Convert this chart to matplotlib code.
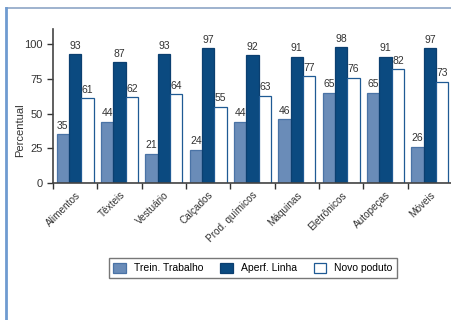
import matplotlib
matplotlib.use("Agg")
import matplotlib.pyplot as plt
from matplotlib.lines import Line2D
from matplotlib import font_manager
import numpy as np

names = {f.name for f in font_manager.fontManager.ttflist}
family = "Liberation Sans Narrow" if "Liberation Sans Narrow" in names else "Liberation Sans"
plt.rcParams["font.family"] = [family, "DejaVu Sans"]

categories = ["Alimentos", "Têxteis", "Vestuário", "Calçados", "Prod. químicos",
              "Máquinas", "Eletrônicos", "Autopeças", "Móveis"]
trein_trabalho = [35, 44, 21, 24, 44, 46, 65, 65, 26]
aperf_linha = [93, 87, 93, 97, 92, 91, 98, 91, 97]
novo_produto = [61, 62, 64, 55, 63, 77, 76, 82, 73]
series_names = ["Trein. Trabalho", "Aperf. Linha", "Novo poduto"]
yticks = [0, 25, 50, 75, 100]

fig = plt.figure(figsize=(4.52, 3.2), dpi=100)
ax = fig.add_axes([53 / 452, 137 / 320, 1 - 53 / 452, (183 - 29) / 320])

face = ["#6a8cb8", "#0b4a80", "#ffffff"]
edge = ["#4a73a6", "#0b3f70", "#1f5a94"]
n = len(categories)
x = np.arange(n)
w = 0.28
data = [trein_trabalho, aperf_linha, novo_produto]
for i, vals in enumerate(data):
    pos = x + 0.5 + (i - 1) * w
    bars = ax.bar(pos, vals, width=w, color=face[i], edgecolor=edge[i],
                  linewidth=0.9, label=series_names[i], zorder=2)
    for b, v in zip(bars, vals):
        ax.annotate(str(v), (b.get_x() + b.get_width() / 2, v),
                    xytext=(0, 2.5), textcoords="offset points",
                    ha="center", va="bottom", fontsize=7.5, color="#333333")

ax.set_xlim(0, n)
ax.set_ylim(0, 111)
ax.set_yticks(yticks)
ax.tick_params(axis="y", labelsize=8, colors="#333333", length=4, width=1, direction="out")
ax.set_xticks(np.arange(n))
ax.set_xticklabels([])
ax.tick_params(axis="x", which="major", length=4, width=1, colors="#333333")
ax.set_xticks(x + 0.5, minor=True)
ax.set_xticklabels(categories, minor=True, rotation=45, ha="right",
                   rotation_mode="anchor", fontsize=7.2, color="#333333")
ax.tick_params(axis="x", which="minor", length=0, pad=5)
ax.set_ylabel("Percentual", fontsize=8, color="#333333")
ax.yaxis.set_label_coords(-0.07, 0.344)
for s in ["top", "right"]:
    ax.spines[s].set_visible(False)
for s in ["left", "bottom"]:
    ax.spines[s].set_color("#444444")
    ax.spines[s].set_linewidth(1.2)

leg = fig.legend(loc="center", bbox_to_anchor=(253 / 452, 1 - 268 / 320), ncol=3,
                 fontsize=7.5, frameon=True, fancybox=False, edgecolor="#555555",
                 handlelength=1.2, handleheight=1.2, handletextpad=0.8,
                 columnspacing=1.6, borderpad=0.4)
leg.get_frame().set_linewidth(1.0)

# page frame lines
fig.add_artist(Line2D([6 / 452, 1], [1 - 8 / 320, 1 - 8 / 320], transform=fig.transFigure,
                      color="#8ea6c6", linewidth=1.2))
fig.add_artist(Line2D([6 / 452, 6 / 452], [0, 1 - 8 / 320], transform=fig.transFigure,
                      color="#6f9bd0", linewidth=2.0))

fig.savefig("out.png", dpi=100)
